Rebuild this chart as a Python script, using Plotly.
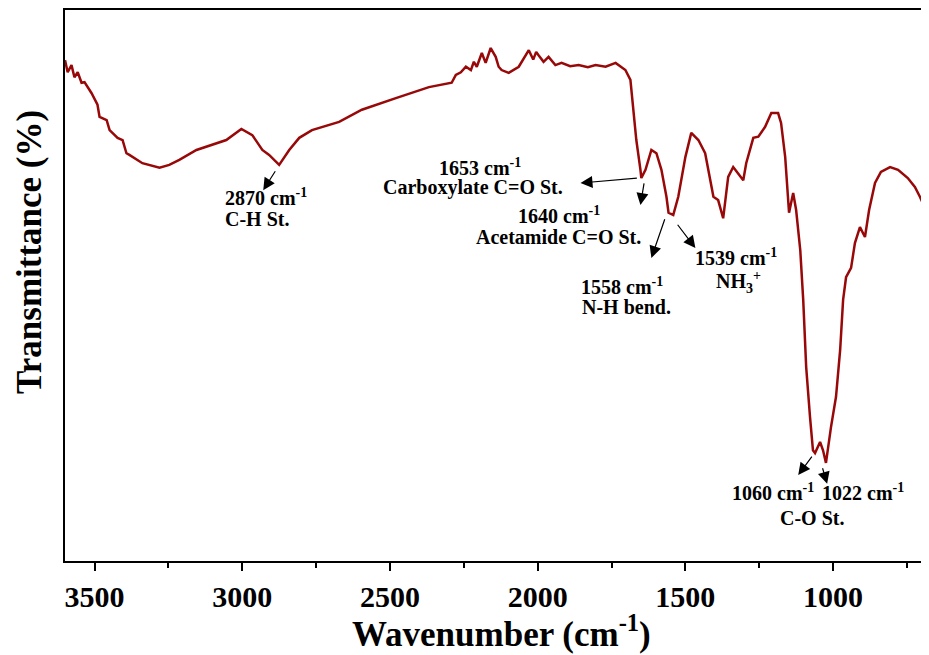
import plotly.graph_objects as go

# Wavenumber (cm^-1) and transmittance (%)
wavenumber = [3600, 3591, 3578, 3568, 3557, 3544, 3534, 3510, 3490, 3483, 3459, 3449,
              3422, 3405, 3392, 3382, 3338, 3280, 3247, 3213,
              3155, 3101, 3054, 3003, 2966, 2932, 2909, 2875, 2841, 2807, 2764, 2672,
              2595, 2480, 2368, 2291, 2277, 2260, 2243, 2226, 2216, 2206, 2189, 2176,
              2159, 2142, 2132, 2122, 2098,
              2064, 2030, 2015, 2005, 1997, 1980, 1963, 1940, 1919, 1890, 1861, 1830,
              1804, 1770, 1736, 1703, 1686, 1676, 1666,
              1652, 1649, 1635, 1615, 1598, 1581, 1564, 1557, 1541, 1524, 1500, 1480,
              1456, 1433, 1405, 1389, 1372, 1355, 1338, 1321, 1304, 1294, 1270, 1253,
              1230, 1209, 1186, 1176, 1162, 1149, 1135, 1125, 1111, 1101, 1091, 1078,
              1068, 1061, 1044, 1034, 1024, 1007, 990, 976, 966, 956, 939, 926, 909,
              892, 878, 858, 838, 807, 780, 747, 723, 706, 689, 682]
transmittance = [90.9, 88.7, 90.0, 87.8, 88.7, 86.8, 86.9, 84.9, 82.8, 80.6, 80.0, 78.2,
                 76.8, 76.4, 74.0, 73.7, 72.2, 71.4, 71.9, 72.8,
                 74.6, 75.5, 76.4, 78.4, 77.3, 74.6, 73.7, 71.9, 74.6, 76.8, 78.2, 79.7,
                 81.9, 84.0, 86.0, 86.8, 88.2, 88.7, 89.7, 89.1, 90.6, 89.7, 92.2, 90.4,
                 93.1, 91.5, 89.7, 89.1, 88.6,
                 89.7, 92.7, 91.0, 92.4, 91.8, 90.6, 91.5, 90.0, 90.4, 89.8, 90.0, 89.6,
                 90.0, 89.7, 90.4, 89.1, 87.3, 81.3, 76.4,
                 71.0, 69.5, 71.0, 74.6, 74.0, 71.0, 66.1, 63.2, 62.8, 66.1, 73.3, 77.7,
                 76.4, 74.0, 66.1, 65.5, 62.2, 69.7, 71.5, 70.4, 69.1, 72.2, 76.8, 77.0,
                 78.8, 81.3, 81.3, 79.5, 73.3, 63.2, 66.8, 63.7, 56.4, 47.4, 35.2, 26.1,
                 20.1, 19.6, 21.6, 20.1, 17.8, 24.3, 29.8, 38.3, 47.4, 51.5, 53.2, 57.7,
                 60.6, 58.8, 63.7, 68.6, 70.6, 71.5, 71.0, 69.5, 67.9, 66.1, 64.2, 63.2]

x_ticks = [3500, 3000, 2500, 2000, 1500, 1000]

FONT = "Liberation Serif"

fig = go.Figure()
fig.add_trace(go.Scatter(x=wavenumber, y=transmittance, mode="lines",
                         line=dict(color="#980808", width=2.5), showlegend=False))

arrows = [
    # (head_x, head_y, tail_x, tail_y)
    (2929, 67.3, 2885, 71.0),
    (1855, 68.6, 1659, 69.5),
    (1652, 64.6, 1639, 68.8),
    (1615, 55.0, 1568, 62.3),
    (1466, 56.8, 1530, 61.3),
    (1118, 15.6, 1068, 19.2),
    (1020, 14.0, 1037, 17.1),
]
for hx, hy, tx, ty in arrows:
    fig.add_annotation(x=hx, y=hy, ax=tx, ay=ty, xref="x", yref="y", axref="x", ayref="y",
                       text="", showarrow=True, arrowhead=2, arrowsize=2.0, arrowwidth=1.2,
                       arrowcolor="black")

labels = [
    (3064, 66.1, "2870 cm<sup>-1</sup>", "left"),
    (3064, 62.1, "C-H St.", "left"),
    (2196, 71.5, "1653 cm<sup>-1</sup>", "center"),
    (2220, 67.7, "Carboxylate C=O St.", "center"),
    (1929, 62.8, "1640 cm<sup>-1</sup>", "center"),
    (1929, 58.8, "Acetamide C=O St.", "center"),
    (1716, 49.9, "1558 cm<sup>-1</sup>", "center"),
    (1699, 46.1, "N-H bend.", "center"),
    (1328, 55.2, "1539 cm<sup>-1</sup>", "center"),
    (1321, 50.6, "NH<sub>3</sub><sup>+</sup>", "center"),
    (1203, 12.5, "1060 cm<sup>-1</sup>", "center"),
    (899, 12.5, "1022 cm<sup>-1</sup>", "center"),
    (1071, 7.8, "C-O St.", "center"),
]
for lx, ly, txt, anchor in labels:
    fig.add_annotation(x=lx, y=ly, xref="x", yref="y", text=txt, showarrow=False,
                       xanchor=anchor, yanchor="middle", align=anchor,
                       font=dict(family=FONT, size=20, color="black", weight="bold"))

fig.add_annotation(x=-0.0405, y=0.561, xref="paper", yref="paper", text="Transmittance (%)",
                   textangle=-90, showarrow=False, xanchor="center", yanchor="middle",
                   font=dict(family=FONT, size=35, color="black", weight="bold"))
fig.add_annotation(x=0.506, y=-0.128, xref="paper", yref="paper",
                   text="Wavenumber (cm<sup>-1</sup>)", showarrow=False,
                   xanchor="center", yanchor="middle",
                   font=dict(family=FONT, size=35, color="black", weight="bold"))

fig.update_layout(
    width=921, height=647,
    margin=dict(l=57, r=0, t=2, b=94),
    paper_bgcolor="white", plot_bgcolor="white",
    xaxis=dict(range=[3600, 682], tickvals=x_ticks, ticks="outside", ticklen=8, tickwidth=2,
               tickcolor="black", showgrid=False, zeroline=False, showline=True,
               linecolor="black", linewidth=2, mirror=True,
               tickfont=dict(family=FONT, size=30, color="black", weight="bold"),
               minor=dict(ticks="outside", ticklen=5, tickwidth=2, tickcolor="black",
                          dtick=250, tick0=0, showgrid=False)),
    yaxis=dict(range=[0, 100], showticklabels=False, ticks="", showgrid=False, zeroline=False,
               showline=True, linecolor="black", linewidth=2, mirror=True),
)

fig.write_html("out.html")
